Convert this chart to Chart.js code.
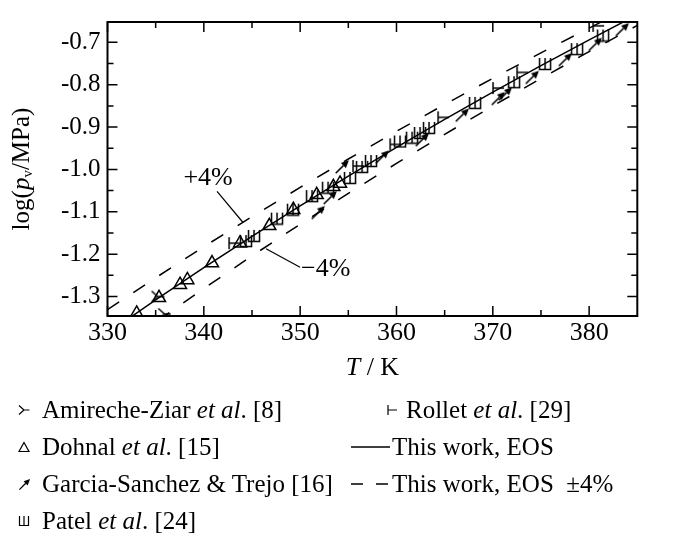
<!DOCTYPE html>
<html>
<head>
<meta charset="utf-8">
<script src="https://cdn.jsdelivr.net/npm/chart.js@4.4.1/dist/chart.umd.min.js"></script>
<style>
  body { margin: 0; background: #fff; }
  #wrap { position: relative; width: 673px; height: 538px; font-family: 'Liberation Serif', 'Times New Roman', serif; color: #000; }
  #plot { position: absolute; left: 0; top: 0; }
  .lg { position: absolute; height: 30px; line-height: 30px; font-size: 25px; white-space: pre; }
  .ico { position: absolute; }
</style>
</head>
<body>
<div id="wrap">
  <canvas id="plot" width="673" height="538"></canvas>
</div>
<script>
// axis ticks
const xTickValues = [330, 340, 350, 360, 370, 380];
const xMinorValues = [335, 345, 355, 365, 375];
const yTickValues = [-1.3, -1.2, -1.1, -1.0, -0.9, -0.8, -0.7];
const yMinorValues = [-1.25, -1.15, -1.05, -0.95, -0.85, -0.75];

// EOS curve and the +/-4% band
const eosT = [330, 335, 340, 345, 350, 355, 360, 365, 370, 375, 380, 385];
const eosLogP = [-1.3866, -1.3081, -1.2318, -1.1578, -1.0859, -1.0160, -0.9480, -0.8819, -0.8176, -0.7550, -0.6941, -0.6347];
const eosUpper = [-1.3311, -1.2558, -1.1825, -1.1115, -1.0425, -0.9754, -0.9101, -0.8466, -0.7849, -0.7248, -0.6663, -0.6093];
const eosLower = [-1.4421, -1.3604, -1.2811, -1.2041, -1.1293, -1.0566, -0.9859, -0.9172, -0.8503, -0.7852, -0.7219, -0.6601];

// experimental data
const amirecheT = [335.2, 335.9];
const amirecheLogP = [-1.300, -1.341];
const dohnalT = [333.03, 335.35, 337.53, 338.29, 340.85, 343.76, 346.80, 349.29, 351.72, 353.45, 354.14];
const dohnalLogP = [-1.340, -1.303, -1.272, -1.261, -1.221, -1.174, -1.133, -1.095, -1.060, -1.041, -1.033];
const garciaT = [351.86, 353.10, 354.35, 358.50, 362.66, 366.81, 370.55, 371.28, 374.08, 377.51, 380.62, 383.43];
const garciaLogP = [-1.102, -1.067, -0.994, -0.971, -0.930, -0.872, -0.833, -0.822, -0.783, -0.741, -0.705, -0.670];
const patelT = [344.38, 345.21, 347.60, 349.26, 351.24, 352.90, 355.18, 356.43, 357.36, 360.37, 361.62, 362.45, 363.38, 368.16, 372.21, 375.43, 378.75, 381.45];
const patelLogP = [-1.169, -1.157, -1.116, -1.095, -1.063, -1.043, -1.020, -0.994, -0.980, -0.934, -0.925, -0.914, -0.902, -0.843, -0.794, -0.751, -0.716, -0.684];
const rolletT = [343.14, 356.01, 359.86, 364.84, 370.54, 373.04, 380.93];
const rolletLogP = [-1.174, -0.992, -0.941, -0.877, -0.808, -0.771, -0.661];

const pts = (xs, ys) => xs.map((x, i) => ({ x, y: ys[i] }));

function makeMarker(size, lw, draw) {
  const c = document.createElement('canvas');
  c.width = c.height = size;
  const g = c.getContext('2d');
  g.strokeStyle = '#000';
  g.fillStyle = '#000';
  g.lineWidth = lw;
  draw(g, size);
  return c;
}

function drawFork(g, s) {
  const m = s / 2;
  g.beginPath();
  g.moveTo(1, 1.5); g.lineTo(m, m); g.lineTo(1, s - 1.5);
  g.moveTo(m, m); g.lineTo(s - 0.5, m);
  g.stroke();
}
function drawArrow(g, s) {
  const k = s / 14;
  g.beginPath();
  g.moveTo(1.5 * k, 12.5 * k); g.lineTo(8.3 * k, 5.7 * k);
  g.stroke();
  g.beginPath();
  g.moveTo(13 * k, 1 * k); g.lineTo(10.4 * k, 8 * k); g.lineTo(6 * k, 3.6 * k);
  g.closePath(); g.fill();
}
function drawComb(g, s) {
  const m = s / 2;
  g.beginPath();
  g.moveTo(1.5, 1); g.lineTo(1.5, s - 1.5); g.lineTo(s - 1.5, s - 1.5); g.lineTo(s - 1.5, 1);
  g.moveTo(m, 1); g.lineTo(m, s - 1.5);
  g.stroke();
}
function drawTack(g, s) {
  const m = s / 2;
  g.beginPath();
  g.moveTo(2, 1); g.lineTo(2, s - 1);
  g.moveTo(2, m); g.lineTo(s - 1, m);
  g.stroke();
}
function drawTri(g, s) {
  g.beginPath();
  g.moveTo(s / 2, 1.5); g.lineTo(s - 1, s - 1.5); g.lineTo(1, s - 1.5);
  g.closePath(); g.stroke();
}

const forkPt = makeMarker(14, 1.5, drawFork);
const arrowPt = makeMarker(16, 1.6, drawArrow);
const combPt = makeMarker(14, 1.5, drawComb);
const tackPt = makeMarker(14, 1.5, drawTack);

// annotation anchors in data units
const plusLabel = { x: 340.44, y: -1.0195 };
const plusLeader = [{ x: 341.37, y: -1.0517 }, { x: 344.07, y: -1.1253 }];
const minusLabel = { x: 350.09, y: -1.2356 };
const minusLeader = [{ x: 346.46, y: -1.1874 }, { x: 349.99, y: -1.2310 }];

const serif = "'Liberation Serif', 'Times New Roman', serif";
Chart.defaults.font.family = serif;
Chart.defaults.color = '#000';

const frameAndText = {
  id: 'frameAndText',
  afterDatasetsDraw(chart) {
    const { ctx, chartArea: a, scales: { x, y } } = chart;
    ctx.save();
    ctx.strokeStyle = '#000';
    ctx.fillStyle = '#000';

    // inward ticks on all four sides
    ctx.lineWidth = 1.5;
    ctx.beginPath();
    const xt = (v, len) => {
      const p = x.getPixelForValue(v);
      ctx.moveTo(p, a.bottom); ctx.lineTo(p, a.bottom - len);
      ctx.moveTo(p, a.top); ctx.lineTo(p, a.top + len);
    };
    const yt = (v, len) => {
      const p = y.getPixelForValue(v);
      ctx.moveTo(a.left, p); ctx.lineTo(a.left + len, p);
      ctx.moveTo(a.right, p); ctx.lineTo(a.right - len, p);
    };
    xTickValues.forEach(v => xt(v, 10));
    xMinorValues.forEach(v => xt(v, 6));
    yTickValues.forEach(v => yt(v, 10));
    yMinorValues.forEach(v => yt(v, 6));
    ctx.stroke();

    ctx.lineWidth = 2;
    ctx.strokeRect(a.left, a.top, a.right - a.left, a.bottom - a.top);

    // +4% / -4% labels with leader lines
    ctx.lineWidth = 1.2;
    ctx.beginPath();
    [plusLeader, minusLeader].forEach(l => {
      ctx.moveTo(x.getPixelForValue(l[0].x), y.getPixelForValue(l[0].y));
      ctx.lineTo(x.getPixelForValue(l[1].x), y.getPixelForValue(l[1].y));
    });
    ctx.stroke();
    ctx.font = '26px ' + serif;
    ctx.textBaseline = 'middle';
    ctx.textAlign = 'center';
    ctx.fillText('+4%', x.getPixelForValue(plusLabel.x), y.getPixelForValue(plusLabel.y));
    ctx.textAlign = 'left';
    ctx.fillText('\u22124%', x.getPixelForValue(minusLabel.x), y.getPixelForValue(minusLabel.y));

    // x title: T / K
    const cx = (a.left + a.right) / 2;
    const ty = 368;
    ctx.font = 'italic 26px ' + serif;
    const wT = ctx.measureText('T').width;
    ctx.font = '26px ' + serif;
    const wR = ctx.measureText(' / K').width;
    const sx = cx - (wT + wR) / 2;
    ctx.font = 'italic 26px ' + serif;
    ctx.fillText('T', sx, ty);
    ctx.font = '26px ' + serif;
    ctx.fillText(' / K', sx + wT, ty);

    // y title: log(p_v/MPa)
    ctx.translate(22, (a.top + a.bottom) / 2);
    ctx.rotate(-Math.PI / 2);
    const parts = [
      ['25px ', 'log(', 0],
      ['italic 25px ', 'p', 0],
      ['15px ', 'v', 6],
      ['25px ', '/MPa)', 0]
    ];
    let total = 0;
    parts.forEach(p => { ctx.font = p[0] + serif; total += ctx.measureText(p[1]).width; });
    let px = -total / 2;
    parts.forEach(p => {
      ctx.font = p[0] + serif;
      ctx.fillText(p[1], px, p[2]);
      px += ctx.measureText(p[1]).width;
    });
    ctx.restore();
  }
};

new Chart(document.getElementById('plot'), {
  type: 'scatter',
  data: {
    datasets: [
      { label: 'Amireche-Ziar et al. [8]', data: pts(amirecheT, amirecheLogP), pointStyle: forkPt, order: 1 },
      { label: 'Dohnal et al. [15]', data: pts(dohnalT, dohnalLogP), pointStyle: 'triangle', pointRadius: 7.5,
        borderColor: '#000', backgroundColor: 'rgba(0,0,0,0)', borderWidth: 1.5, order: 2 },
      { label: 'Garcia-Sanchez & Trejo [16]', data: pts(garciaT, garciaLogP), pointStyle: arrowPt, order: 3 },
      { label: 'Patel et al. [24]', data: pts(patelT, patelLogP), pointStyle: combPt, order: 4 },
      { label: 'Rollet et al. [29]', data: pts(rolletT, rolletLogP), pointStyle: tackPt, order: 5 },
      { label: 'This work, EOS', data: pts(eosT, eosLogP), showLine: true, pointRadius: 0,
        borderColor: '#000', borderWidth: 1.5, order: 10 },
      { label: 'This work, EOS +4%', data: pts(eosT, eosUpper), showLine: true, pointRadius: 0,
        borderColor: '#000', borderWidth: 1.5, borderDash: [14, 17], order: 11 },
      { label: 'This work, EOS -4%', data: pts(eosT, eosLower), showLine: true, pointRadius: 0,
        borderColor: '#000', borderWidth: 1.5, borderDash: [14, 17], order: 12 }
    ]
  },
  options: {
    responsive: false,
    animation: false,
    events: [],
    layout: { padding: { left: 0, right: 35.7, top: 14, bottom: 0 } },
    plugins: { legend: { display: false }, tooltip: { enabled: false } },
    scales: {
      x: {
        type: 'linear', min: 330, max: 385,
        grid: { display: false, drawTicks: false },
        border: { display: false },
        afterBuildTicks: s => { s.ticks = xTickValues.map(v => ({ value: v })); },
        afterFit: s => { s.height = 222; },
        ticks: { font: { size: 26 }, color: '#000', padding: 2, maxRotation: 0, autoSkip: false }
      },
      y: {
        type: 'linear', min: -1.346, max: -0.652,
        grid: { display: false, drawTicks: false },
        border: { display: false },
        afterBuildTicks: s => { s.ticks = yTickValues.map(v => ({ value: v })); },
        afterFit: s => { s.width = 107.5; },
        ticks: { font: { size: 25 }, color: '#000', padding: 7, autoSkip: false,
          callback: v => v.toFixed(1) }
      }
    }
  },
  plugins: [frameAndText]
});

// legend below the plot
const wrap = document.getElementById('wrap');
function icon(draw, size, lw, cx, cy) {
  const c = makeMarker(size, lw, draw);
  c.className = 'ico';
  c.style.left = (cx - size / 2) + 'px';
  c.style.top = (cy - size / 2) + 'px';
  wrap.appendChild(c);
}
function text(html, left, cy) {
  const d = document.createElement('div');
  d.className = 'lg';
  d.style.left = left + 'px';
  d.style.top = (cy - 15) + 'px';
  d.innerHTML = html;
  wrap.appendChild(d);
}
function lineIcon(x0, x1, cy, dashed) {
  const c = document.createElement('canvas');
  c.width = x1 - x0; c.height = 4;
  c.className = 'ico';
  c.style.left = x0 + 'px'; c.style.top = (cy - 2) + 'px';
  const g = c.getContext('2d');
  g.strokeStyle = '#000'; g.lineWidth = 1.4;
  if (dashed) g.setLineDash([12, 13]);
  g.beginPath(); g.moveTo(0, 2); g.lineTo(x1 - x0, 2); g.stroke();
  wrap.appendChild(c);
}

const rows = [410, 447, 484, 521];
icon(drawFork, 12, 1.2, 24, rows[0]);
text('Amireche-Ziar <i>et al</i>. [8]', 42, rows[0]);
icon(drawTri, 12, 1.2, 24, rows[1]);
text('Dohnal <i>et al</i>. [15]', 42, rows[1]);
icon(drawArrow, 13, 1.3, 24, rows[2]);
text('Garcia-Sanchez &amp; Trejo [16]', 42, rows[2]);
icon(drawComb, 12, 1.2, 24, rows[3]);
text('Patel <i>et al</i>. [24]', 42, rows[3]);

icon(drawTack, 12, 1.2, 392, rows[0]);
text('Rollet <i>et al</i>. [29]', 406, rows[0]);
lineIcon(351, 390, rows[1], false);
text('This work, EOS', 392, rows[1]);
lineIcon(351, 390, rows[2], true);
text('This work, EOS  \u00b14%', 392, rows[2]);
</script>
</body>
</html>
